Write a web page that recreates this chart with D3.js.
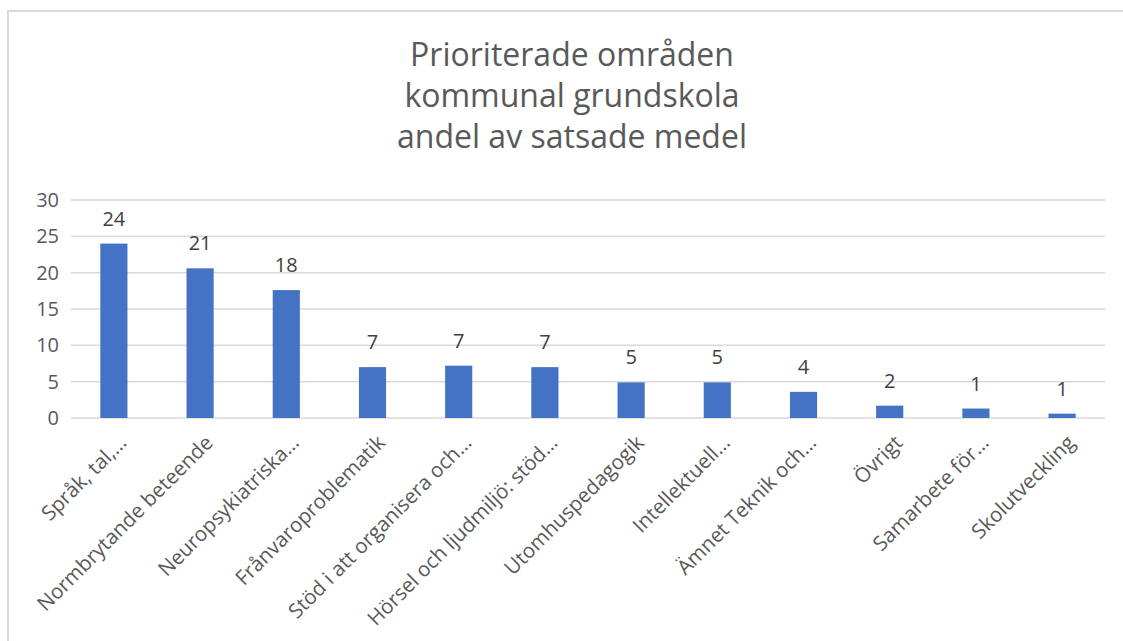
<!DOCTYPE html>
<html>
<head>
<meta charset="utf-8">
<script src="https://cdn.jsdelivr.net/npm/d3@7"></script>
<style>
  body { margin: 0; background: #fff; overflow: hidden; }
  svg { display: block; }
  text { font-family: "Open Sans", "Noto Sans", sans-serif; }
</style>
</head>
<body>
<script>
var categories = ["Språk, tal,…", "Normbrytande beteende", "Neuropsykiatriska…", "Frånvaroproblematik",
  "Stöd i att organisera och…", "Hörsel och ljudmiljö: stöd…", "Utomhuspedagogik", "Intellektuell…",
  "Ämnet Teknik och…", "Övrigt", "Samarbete för…", "Skolutveckling"];
var values = [24.0, 20.6, 17.6, 7.0, 7.2, 7.0, 4.9, 4.9, 3.6, 1.7, 1.3, 0.6];
var yTicks = [0, 5, 10, 15, 20, 25, 30];
var titleLines = ["Prioriterade områden", "kommunal grundskola", "andel av satsade medel"];

var width = 1123, height = 641;
var margin = {left: 71, right: 18, top: 200, bottom: 223};

var svg = d3.select("body").append("svg").attr("width", width).attr("height", height);

// chart frame (only top and left edges are inside the picture)
svg.append("path").attr("d", "M8," + height + "V11H" + width)
  .attr("fill", "none").attr("stroke", "#d9d9d9").attr("stroke-width", 2);

var x = d3.scaleBand().domain(categories).range([margin.left, width - margin.right]).paddingInner(0.685).paddingOuter(0.34);
var y = d3.scaleLinear().domain([0, 30]).range([height - margin.bottom, margin.top]);

// title
svg.append("g").selectAll("text").data(titleLines).enter().append("text")
  .attr("x", 572).attr("y", function(d, i){ return 66 + i * 41; })
  .attr("text-anchor", "middle").attr("font-size", 32).attr("fill", "#595959")
  .text(function(d){ return d; });

// gridlines
svg.append("g").selectAll("line").data(yTicks).enter().append("line")
  .attr("x1", margin.left).attr("x2", width - margin.right)
  .attr("y1", function(d){ return y(d); }).attr("y2", function(d){ return y(d); })
  .attr("stroke", "#d9d9d9").attr("stroke-width", 1.5);

// y axis labels
var yAxis = svg.append("g").attr("transform", "translate(" + (margin.left - 12) + ",0)")
  .call(d3.axisLeft(y).tickValues(yTicks).tickSize(0).tickPadding(0));
yAxis.select(".domain").remove();
yAxis.selectAll("text").attr("font-size", 20).attr("fill", "#595959").attr("font-family", "Open Sans, sans-serif");

// bars
svg.append("g").selectAll("rect").data(values).enter().append("rect")
  .attr("x", function(d, i){ return x(categories[i]); })
  .attr("width", x.bandwidth())
  .attr("y", function(d){ return y(d); })
  .attr("height", function(d){ return y(0) - y(d); })
  .attr("fill", "#4472c4");

// data labels
svg.append("g").selectAll("text").data(values).enter().append("text")
  .attr("x", function(d, i){ return x(categories[i]) + x.bandwidth() / 2; })
  .attr("y", function(d){ return y(d) - 18; })
  .attr("text-anchor", "middle").attr("font-size", 20).attr("fill", "#404040")
  .text(function(d){ return d3.format(".0f")(d); });

// x axis labels
var xAxis = svg.append("g").attr("transform", "translate(0," + y(0) + ")")
  .call(d3.axisBottom(x).tickSize(0).tickPadding(0));
xAxis.select(".domain").remove();
xAxis.selectAll("text")
  .attr("font-size", 20.5).attr("fill", "#595959").attr("font-family", "Open Sans, sans-serif")
  .attr("text-anchor", "end").attr("dy", null).attr("y", 0)
  .attr("transform", "translate(14,26) rotate(-45)");
</script>
</body>
</html>
